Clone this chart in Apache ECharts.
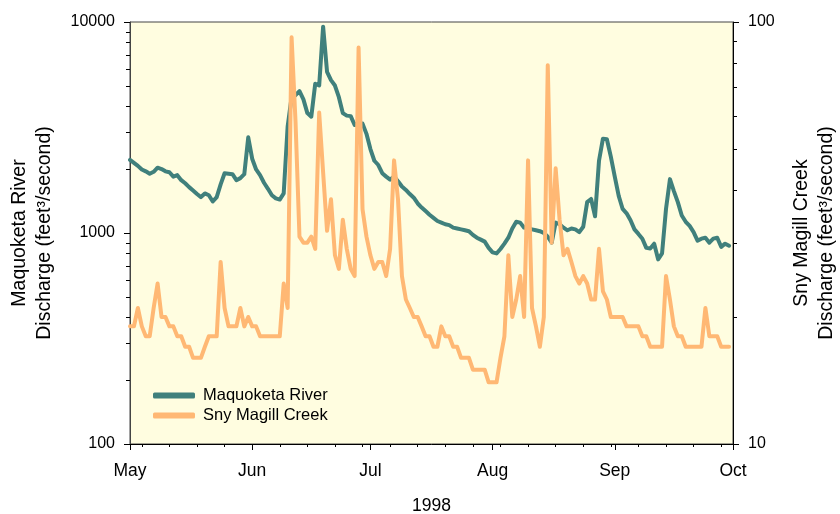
<!DOCTYPE html>
<html>
<head>
<meta charset="utf-8">
<script src="https://cdn.jsdelivr.net/npm/echarts@6/dist/echarts.min.js"></script>
<style>
  html, body { margin: 0; padding: 0; background: #fff; }
  #chart { width: 840px; height: 514px; }
</style>
</head>
<body>
<div id="chart"></div>
<script>
// daily values, May 1 - Sep 30 1998
const startDate = "1998-05-01";
const dayCount = 154; // May 1 .. Oct 1
const monthNames = ["Jan", "Feb", "Mar", "Apr", "May", "Jun", "Jul", "Aug", "Sep", "Oct", "Nov", "Dec"];

// Maquoketa River discharge (left axis)
const maquoketa = [
  2220, 2150, 2080, 2000, 1960, 1910, 1950, 2040, 2010, 1960,
  1940, 1850, 1880, 1780, 1720, 1650, 1590, 1530, 1480, 1540,
  1510, 1410, 1480, 1700, 1920, 1910, 1900, 1780, 1820, 1900,
  2840, 2250, 2000, 1880, 1730, 1620, 1510, 1460, 1440, 1540,
  3200, 4400, 4500, 4700, 4300, 3700, 3560, 5100, 5000, 9500,
  5800, 5300, 5000, 4400, 3700, 3600, 3580, 3250, 3300, 3300,
  2950, 2500, 2200, 2100, 1920, 1850, 1790, 1850, 1760, 1660,
  1600, 1530, 1470, 1380, 1320, 1270, 1220, 1180, 1140, 1120,
  1100, 1090, 1060, 1050, 1040, 1030, 1020, 980, 950, 930,
  910, 850, 810, 800, 840, 890, 950, 1050, 1130, 1120,
  1060, 1050, 1040, 1030, 1020, 1000, 960, 900, 1120, 1100,
  1060, 1030, 1050, 1040, 1010, 1070, 1400, 1450, 1200, 2200,
  2800, 2780, 2300, 1850, 1500, 1300, 1240, 1150, 1040, 990,
  940, 850, 845, 890, 750, 800, 1300, 1800, 1580, 1400,
  1210, 1130, 1080, 1010, 920, 940, 950, 900, 940, 950,
  860, 890, 870
];

// Sny Magill Creek discharge (right axis)
const snyMagill = [
  19, 19, 21, 19, 18, 18, 21, 24, 20, 20,
  19, 19, 18, 18, 17, 17, 16, 16, 16, 17,
  18, 18, 18, 27, 21, 19, 19, 19, 21, 19,
  20, 19, 19, 18, 18, 18, 18, 18, 18, 24,
  21, 92, 58, 31, 30, 30, 31, 29, 61, 44,
  32, 38, 28, 26, 34, 29, 26, 25, 87, 36,
  31, 28, 26, 27, 27, 25, 29, 47, 38, 25,
  22, 21, 20, 20, 19, 18, 18, 17, 17, 19,
  18, 18, 17, 17, 16, 16, 16, 15, 15, 15,
  15, 14, 14, 14, 16, 18, 28, 20, 22, 25,
  20, 47, 21, 19, 17, 20, 79, 30, 45, 34,
  28, 29, 27, 25, 24, 25, 24, 22, 22, 29,
  23, 22, 20, 20, 20, 20, 19, 19, 19, 19,
  18, 18, 17, 17, 17, 17, 25, 22, 19, 18,
  18, 17, 17, 17, 17, 17, 21, 18, 18, 18,
  17, 17, 17
];

// minor tick values on the two log axes
const leftMinorTicks = [200, 300, 400, 500, 600, 700, 800, 900, 2000, 3000, 4000, 5000, 6000, 7000, 8000, 9000];
const rightMinorTicks = [20, 30, 40, 50, 60, 70, 80, 90];

const days = [];
const d0 = new Date(startDate + "T00:00:00Z");
for (let i = 0; i < dayCount; i++) {
  const d = new Date(d0.getTime() + i * 86400000);
  days.push(d.toISOString().slice(0, 10));
}

const font = "'Liberation Sans', Arial, sans-serif";
const isMonthStart = (i, v) => v.slice(8) === "01";
const isMonday = (i, v) => new Date(v + "T00:00:00Z").getUTCDay() === 1;

const chart = echarts.init(document.getElementById("chart"));
chart.setOption({
  animation: false,
  textStyle: { fontFamily: font },
  grid: {
    left: 130, right: 107, top: 22, bottom: 70,
    containLabel: false,
    outerBoundsMode: "none",
    show: true,
    backgroundColor: "#FFFDE0",
    borderColor: "#444",
    borderWidth: 1
  },
  legend: {
    orient: "vertical",
    left: 148, top: 382,
    itemWidth: 42, itemHeight: 6,
    itemGap: 3,
    icon: "roundRect",
    textStyle: { fontSize: 16.5, color: "#000", fontFamily: font, padding: [0, 0, 0, 3] },
    data: ["Maquoketa River", "Sny Magill Creek"]
  },
  xAxis: [
    {
      type: "category",
      data: days,
      boundaryGap: false,
      name: "1998",
      nameLocation: "middle",
      nameGap: 53,
      nameTextStyle: { fontSize: 17.5, color: "#000" },
      axisLine: { lineStyle: { color: "#000", width: 1 } },
      axisTick: { interval: isMonthStart, length: 6, lineStyle: { color: "#000" } },
      axisLabel: {
        interval: isMonthStart,
        margin: 18,
        fontSize: 17.5,
        color: "#000",
        formatter: v => monthNames[+v.slice(5, 7) - 1]
      },
      splitLine: { show: false }
    },
    {
      type: "category",
      data: days,
      boundaryGap: false,
      position: "bottom",
      axisLine: { show: false },
      axisTick: { interval: isMonday, length: 3, lineStyle: { color: "#000" } },
      axisLabel: { show: false },
      splitLine: { show: false }
    }
  ],
  yAxis: [
    {
      type: "log",
      logBase: 10,
      min: 100,
      max: 10000,
      name: "Maquoketa River\nDischarge (feet³/second)",
      nameLocation: "middle",
      nameRotate: 90,
      nameGap: 73,
      nameTextStyle: { fontSize: 19.5, color: "#000", lineHeight: 25 },
      axisLine: { show: true, lineStyle: { color: "#444" } },
      axisTick: { show: true, length: 6, lineStyle: { color: "#000" } },
      axisLabel: { fontSize: 16, color: "#000", margin: 15, formatter: v => String(v) },
      splitLine: { show: false }
    },
    {
      type: "log",
      logBase: 10,
      min: 10,
      max: 100,
      name: "Sny Magill Creek\nDischarge (feet³/second)",
      nameLocation: "middle",
      nameRotate: 90,
      nameGap: 56,
      nameTextStyle: { fontSize: 19.5, color: "#000", lineHeight: 25 },
      axisLine: { show: true, lineStyle: { color: "#000" } },
      axisTick: { show: true, length: 6, lineStyle: { color: "#000" } },
      axisLabel: { fontSize: 16, color: "#000", margin: 15, formatter: v => String(v) },
      splitLine: { show: false }
    }
  ],
  series: [
    {
      name: "Maquoketa River",
      type: "line",
      yAxisIndex: 0,
      data: maquoketa,
      showSymbol: false,
      color: "#40807C",
      lineStyle: { width: 4, color: "#40807C", cap: "round", join: "round" }
    },
    {
      name: "Sny Magill Creek",
      type: "line",
      yAxisIndex: 1,
      data: snyMagill,
      showSymbol: false,
      color: "#FFB874",
      lineStyle: { width: 4, color: "#FFB874", cap: "round", join: "round" }
    }
  ]
});

// minor ticks on the log axes, placed through the axes' own scales
const xLeft = chart.convertToPixel({ xAxisIndex: 0 }, days[0]);
const xRight = chart.convertToPixel({ xAxisIndex: 0 }, days[dayCount - 1]);
const tickLines = [];
leftMinorTicks.forEach(v => {
  const y = Math.round(chart.convertToPixel({ yAxisIndex: 0 }, v)) + 0.5;
  tickLines.push({ type: "line", shape: { x1: xLeft - 4, y1: y, x2: xLeft, y2: y }, style: { stroke: "#000", lineWidth: 1 } });
});
rightMinorTicks.forEach(v => {
  const y = Math.round(chart.convertToPixel({ yAxisIndex: 1 }, v)) + 0.5;
  tickLines.push({ type: "line", shape: { x1: xRight, y1: y, x2: xRight + 4, y2: y }, style: { stroke: "#000", lineWidth: 1 } });
});
chart.setOption({ graphic: tickLines });
</script>
</body>
</html>
